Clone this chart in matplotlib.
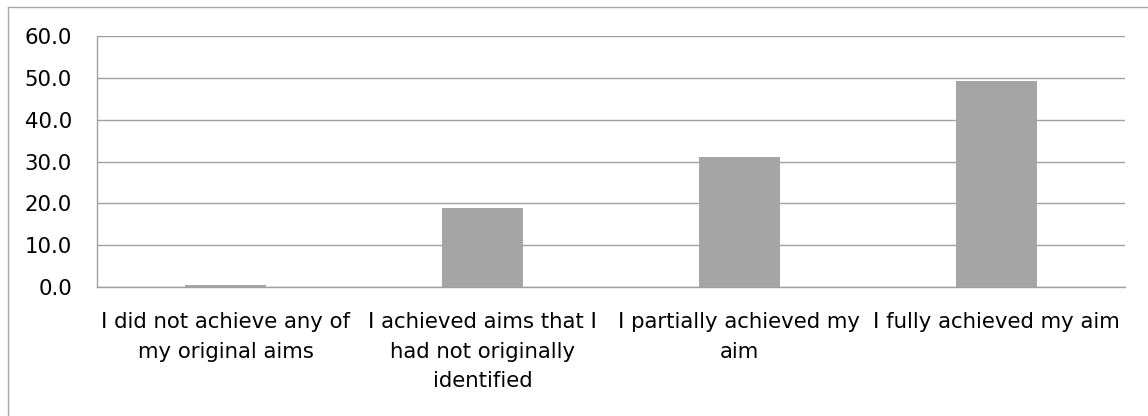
import matplotlib
matplotlib.use("Agg")
import matplotlib.pyplot as plt
from matplotlib.lines import Line2D

categories = [
    "I did not achieve any of\nmy original aims",
    "I achieved aims that I\nhad not originally\nidentified",
    "I partially achieved my\naim",
    "I fully achieved my aim",
]
values = [0.5, 18.9, 31.0, 49.3]
yticks = [0, 10, 20, 30, 40, 50, 60]

plt.rcParams["font.family"] = ["DejaVu Sans"]

W, H, DPI = 1148, 416, 100
fig = plt.figure(figsize=(W / DPI, H / DPI), dpi=DPI)
fig.patch.set_facecolor("white")

# chart frame (top and left edges)
frame_color = "#A6A6A6"
fig.add_artist(Line2D([7.5 / W, 1.0], [1 - 6.5 / H, 1 - 6.5 / H],
                      transform=fig.transFigure, color=frame_color, linewidth=1))
fig.add_artist(Line2D([7.5 / W, 7.5 / W], [0.0, 1 - 6.5 / H],
                      transform=fig.transFigure, color=frame_color, linewidth=1))

ax = fig.add_axes([97 / W, 1 - 287 / H, (1125 - 97) / W, (287 - 36) / H])
x = range(len(categories))
ax.bar(x, values, width=0.315, color="#A5A5A5", zorder=3)

ax.set_xlim(-0.5, len(categories) - 0.5)
ax.set_ylim(0, 60)
ax.set_yticks(yticks)
ax.set_yticklabels([f"{v:.1f}" for v in yticks], fontsize=15.3, color="#000000")
ax.set_xticks(list(x))
ax.set_xticklabels(categories, fontsize=15.3, color="#000000", linespacing=1.6, va="top")

ax.grid(axis="y", color="#A0A0A0", linewidth=1, zorder=0)
for side in ("top", "right"):
    ax.spines[side].set_visible(False)
for side in ("left", "bottom"):
    ax.spines[side].set_color("#A0A0A0")
    ax.spines[side].set_linewidth(1)
ax.tick_params(axis="both", length=0)
ax.tick_params(axis="y", pad=18)
ax.tick_params(axis="x", pad=18)

fig.savefig("out.png", dpi=DPI)
